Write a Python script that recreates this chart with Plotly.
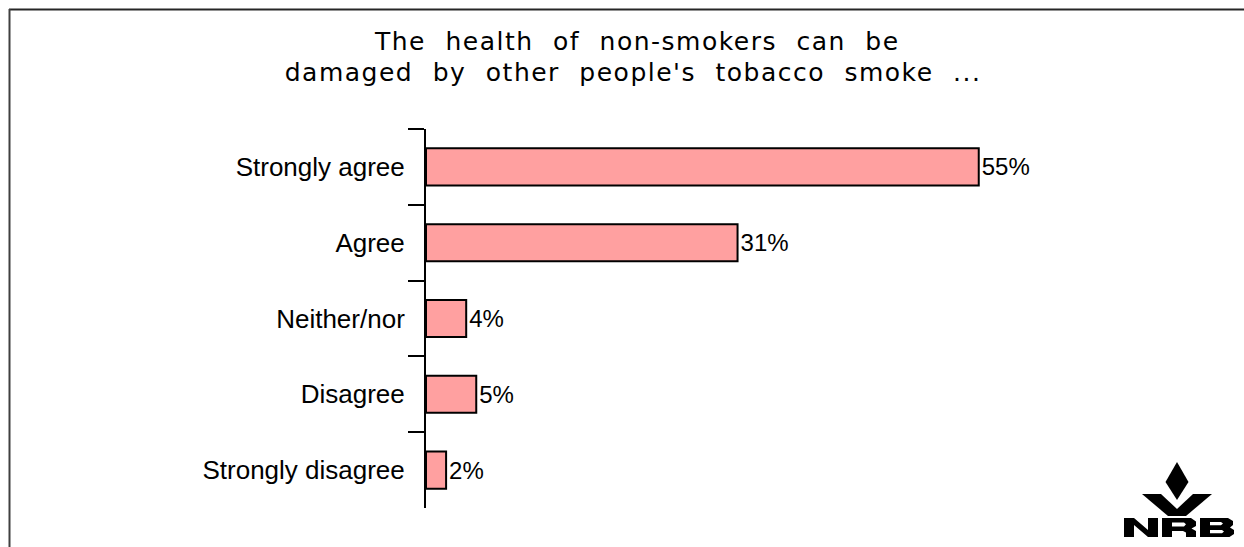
import plotly.graph_objects as go

# ---- data ----
categories = ["Strongly agree", "Agree", "Neither/nor", "Disagree", "Strongly disagree"]
values = [55, 31, 4, 5, 2]
value_labels = [f"{v}%" for v in values]
title_line1 = "The health of non-smokers can be"
title_line2 = "damaged by other people's tobacco smoke ..."

# ---- geometry helpers (pixels -> paper) ----
W, H = 1244, 547
ML, MR, MT, MB = 426, 14, 129, 39
PW, PH = W - ML - MR, H - MT - MB


def px(x):
    return (x - ML) / PW


def py(y):
    return (H - MB - y) / PH


def path(points):
    return "M " + " L ".join(f"{px(x):.5f},{py(y):.5f}" for x, y in points) + " Z"


fig = go.Figure(
    go.Bar(
        x=values,
        y=categories,
        orientation="h",
        width=0.49,
        marker=dict(color="#FFA0A0", line=dict(color="black", width=2)),
        text=value_labels,
        textposition="outside",
        constraintext="none",
        textfont=dict(family="Liberation Sans, Arial", size=24, color="black"),
        cliponaxis=False,
        hoverinfo="skip",
    )
)

shapes = []
# frame lines (top and left)
shapes.append(dict(type="line", xref="paper", yref="paper", x0=px(9), x1=px(1244), y0=py(9.5), y1=py(9.5),
                   line=dict(color="#262626", width=2)))
shapes.append(dict(type="line", xref="paper", yref="paper", x0=px(9.5), x1=px(9.5), y0=py(9), y1=py(547),
                   line=dict(color="#404040", width=2)))

# NRB logo
logo_parts = [
    # diamond
    [(1177, 462), (1188.5, 482), (1177, 500), (1165.5, 482)],
    # left leaf
    [(1142, 494), (1161, 494), (1177, 509), (1177, 516), (1168, 516)],
    # right leaf
    [(1212, 494), (1193, 494), (1177, 509), (1177, 516), (1186, 516)],
    # N
    [(1124, 537), (1124, 518), (1134, 518), (1148, 530), (1148, 518), (1158, 518), (1158, 537),
     (1148, 537), (1134, 525), (1134, 537)],
]
for pts in logo_parts:
    shapes.append(dict(type="path", xref="paper", yref="paper", path=path(pts),
                       fillcolor="black", line=dict(width=0)))
# R with counter
r_path = path([(1162, 537), (1162, 518), (1191, 518), (1196, 521.5), (1196, 526), (1191.5, 528.5),
               (1196, 531), (1196, 537), (1186, 537), (1186, 532.5), (1183, 531), (1172, 531), (1172, 537)]) + " " + \
    path([(1172, 522.5), (1184, 522.5), (1186, 524.2), (1184, 526.5), (1172, 526.5)])
shapes.append(dict(type="path", xref="paper", yref="paper", path=r_path, fillcolor="black",
                   fillrule="evenodd", line=dict(width=0)))
# B with counters
b_path = path([(1200, 537), (1200, 518), (1228, 518), (1233, 521), (1233, 525), (1230, 527.5),
               (1234, 530), (1234, 534), (1229.5, 537)]) + " " + \
    path([(1210, 522), (1221, 522), (1223, 523.6), (1221, 525.3), (1210, 525.3)]) + " " + \
    path([(1210, 530), (1222, 530), (1224, 531.6), (1222, 533.3), (1210, 533.3)])
shapes.append(dict(type="path", xref="paper", yref="paper", path=b_path, fillcolor="black",
                   fillrule="evenodd", line=dict(width=0)))

annotations = [
    dict(text=title_line1, xref="paper", yref="paper", x=px(637), y=py(41), xanchor="center",
         yanchor="middle", showarrow=False, font=dict(family="DejaVu Sans", size=25, color="black")),
    dict(text=title_line2, xref="paper", yref="paper", x=px(633), y=py(72), xanchor="center",
         yanchor="middle", showarrow=False, font=dict(family="DejaVu Sans", size=25, color="black")),
]

fig.update_layout(
    width=W,
    height=H,
    margin=dict(l=ML, r=MR, t=MT, b=MB, pad=0),
    paper_bgcolor="white",
    plot_bgcolor="white",
    showlegend=False,
    shapes=shapes,
    annotations=annotations,
    xaxis=dict(range=[0, 80], visible=False, fixedrange=True),
    yaxis=dict(
        type="category",
        range=[4.5, -0.5],
        tickson="boundaries",
        ticks="outside",
        ticklen=16,
        tickwidth=2,
        tickcolor="black",
        ticklabelstandoff=14,
        showline=True,
        linewidth=2,
        linecolor="black",
        showgrid=False,
        zeroline=False,
        tickfont=dict(family="Liberation Sans, Arial", size=26, color="black"),
        fixedrange=True,
    ),
)

post = """
document.querySelectorAll('text.annotation-text').forEach(function(t){
  if (t.textContent.length > 10) { t.style.letterSpacing = '1.5px'; t.style.wordSpacing = '10px'; }
});
"""

fig.write_html("out.html", post_script=post, config={"displayModeBar": False, "responsive": False})
